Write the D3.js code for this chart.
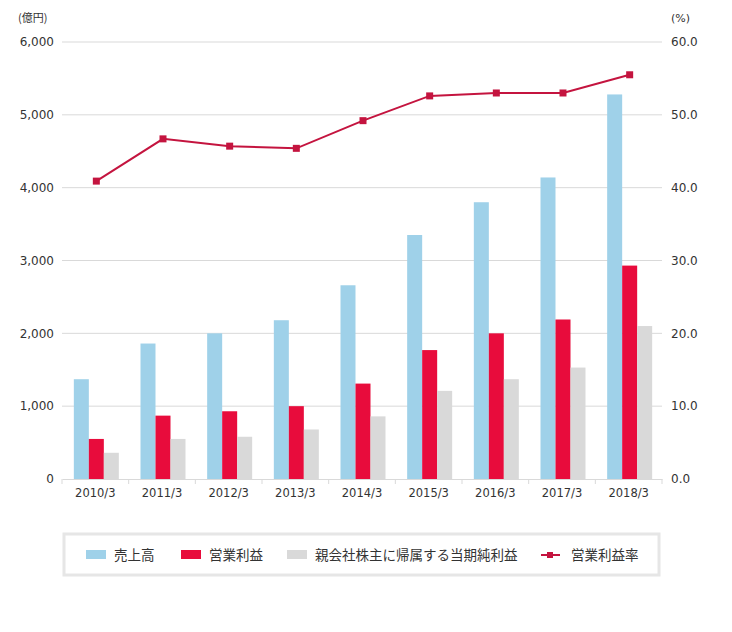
<!DOCTYPE html>
<html>
<head>
<meta charset="utf-8">
<script src="https://cdn.jsdelivr.net/npm/d3@7"></script>
<style>
  body { margin: 0; background: #fff; }
  text { fill: #333; }
</style>
</head>
<body>
<div class="chart"></div>
<script>
// data
var years = ["2010/3", "2011/3", "2012/3", "2013/3", "2014/3", "2015/3", "2016/3", "2017/3", "2018/3"];
var sales = [1370, 1860, 2000, 2180, 2660, 3350, 3800, 4140, 5280];
var opProfit = [550, 870, 930, 1000, 1310, 1770, 2000, 2190, 2930];
var netProfit = [360, 550, 580, 680, 860, 1210, 1370, 1530, 2100];
var opMargin = [40.9, 46.7, 45.7, 45.4, 49.2, 52.6, 53.0, 53.0, 55.5];
var leftTicks = [0, 1000, 2000, 3000, 4000, 5000, 6000];
var rightTicks = [0, 10, 20, 30, 40, 50, 60];
var seriesNames = ["売上高", "営業利益", "親会社株主に帰属する当期純利益", "営業利益率"];

var colors = { sales: "#9fd1e9", op: "#e80c3c", net: "#d9d9d9", line: "#c4143f" };

var width = 732, height = 632;
var margin = { left: 62, right: 70, top: 42, bottom: 153 };
var plotW = width - margin.left - margin.right,
    plotH = height - margin.top - margin.bottom;

var svg = d3.select(".chart").append("svg")
    .attr("width", width)
    .attr("height", height)
    .style("font-family", "'DejaVu Sans', Verdana, sans-serif");

var g = svg.append("g").attr("transform", "translate(" + margin.left + "," + margin.top + ")");

var x = d3.scaleBand().domain(years).range([0, plotW]);
var xInner = d3.scaleBand().domain(["sales", "op", "net"]).range([0, 45]);
var yL = d3.scaleLinear().domain([0, 6000]).range([plotH, 0]);
var yR = d3.scaleLinear().domain([0, 60]).range([plotH, 0]);

// gridlines
g.selectAll(".grid").data(leftTicks.slice(1)).enter()
    .append("line")
    .attr("x1", 0).attr("x2", plotW)
    .attr("y1", function(d){ return yL(d); })
    .attr("y2", function(d){ return yL(d); })
    .attr("stroke", "#d9d9d9").attr("stroke-width", 1);

// left axis labels
g.selectAll(".ltick").data(leftTicks).enter()
    .append("text")
    .attr("x", -8)
    .attr("y", function(d){ return yL(d); })
    .attr("dy", "0.35em")
    .attr("text-anchor", "end")
    .style("font-size", "12px")
    .text(d3.format(","));

// right axis labels
g.selectAll(".rtick").data(rightTicks).enter()
    .append("text")
    .attr("x", plotW + 9)
    .attr("y", function(d){ return yR(d); })
    .attr("dy", "0.35em")
    .style("font-size", "12px")
    .text(d3.format(".1f"));

svg.append("text").attr("x", 18).attr("y", 22).style("font-size", "11px")
    .style("font-family", "'Noto Sans CJK JP', sans-serif").text("(億円)");
svg.append("text").attr("x", 671).attr("y", 22).style("font-size", "11px").text("(%)");

// bars
var groupOffset = (x.bandwidth() - 45) / 2 + 1;
var bars = [
    { key: "sales", vals: sales },
    { key: "op", vals: opProfit },
    { key: "net", vals: netProfit }
];
bars.forEach(function(s){
    g.selectAll(".bar-" + s.key).data(s.vals).enter()
        .append("rect")
        .attr("x", function(d, i){ return x(years[i]) + groupOffset + xInner(s.key); })
        .attr("y", function(d){ return yL(d); })
        .attr("width", xInner.bandwidth())
        .attr("height", function(d){ return plotH - yL(d); })
        .attr("fill", colors[s.key]);
});

// bottom axis
var xAxis = d3.axisBottom(x).tickSize(0).tickPadding(10);
var axisG = g.append("g").attr("transform", "translate(0," + plotH + ")").call(xAxis);
axisG.select(".domain").attr("stroke", "#d9d9d9");
axisG.selectAll("text").style("font-size", "11.5px").attr("fill", "#333")
    .style("font-family", "'DejaVu Sans', Verdana, sans-serif");
g.selectAll(".xsep").data(d3.range(years.length + 1)).enter()
    .append("line")
    .attr("x1", function(i){ return i * x.step(); })
    .attr("x2", function(i){ return i * x.step(); })
    .attr("y1", plotH).attr("y2", plotH + 5)
    .attr("stroke", "#d9d9d9");

// margin line
var cx = function(d, i){ return x(years[i]) + groupOffset + xInner("op") + xInner.bandwidth() / 2; };
var line = d3.line().x(cx).y(function(d){ return yR(d); });
g.append("path").datum(opMargin)
    .attr("d", line)
    .attr("fill", "none")
    .attr("stroke", colors.line)
    .attr("stroke-width", 2);
g.selectAll(".pt").data(opMargin).enter()
    .append("rect")
    .attr("x", function(d, i){ return cx(d, i) - 3.5; })
    .attr("y", function(d){ return yR(d) - 3.5; })
    .attr("width", 7).attr("height", 7)
    .attr("fill", colors.line);

// legend
var legend = svg.append("g");
legend.append("rect")
    .attr("x", 64).attr("y", 534)
    .attr("width", 595).attr("height", 41)
    .attr("fill", "#fff")
    .attr("stroke", "#e6e6e6").attr("stroke-width", 3);

var legendItems = [
    { name: seriesNames[0], color: colors.sales, x: 86, type: "box" },
    { name: seriesNames[1], color: colors.op, x: 181, type: "box" },
    { name: seriesNames[2], color: colors.net, x: 287, type: "box" },
    { name: seriesNames[3], color: colors.line, x: 541, type: "line" }
];
legendItems.forEach(function(it){
    if (it.type == "box") {
        legend.append("rect").attr("x", it.x).attr("y", 550)
            .attr("width", 20).attr("height", 9).attr("fill", it.color);
    } else {
        legend.append("line").attr("x1", it.x).attr("x2", it.x + 19)
            .attr("y1", 555).attr("y2", 555)
            .attr("stroke", it.color).attr("stroke-width", 2);
        legend.append("rect").attr("x", it.x + 6).attr("y", 552)
            .attr("width", 6).attr("height", 6).attr("fill", it.color);
    }
    legend.append("text")
        .attr("x", it.x + (it.type == "box" ? 28 : 30))
        .attr("y", 555).attr("dy", "0.35em")
        .style("font-size", "13.5px")
        .style("font-family", "'Noto Sans CJK JP', sans-serif")
        .text(it.name);
});
</script>
</body>
</html>
